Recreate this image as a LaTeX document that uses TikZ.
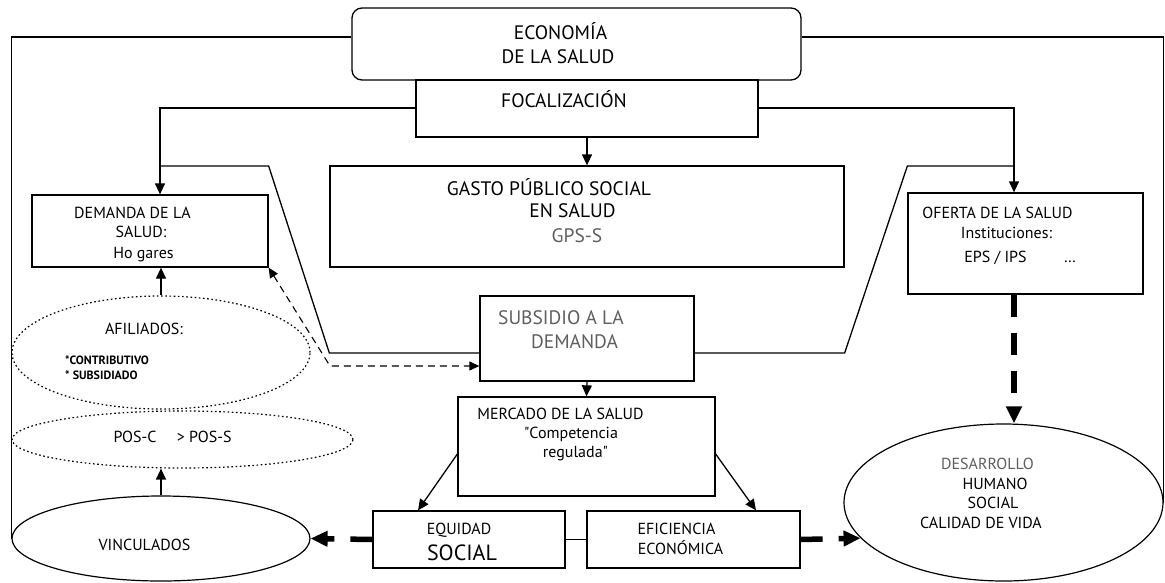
\documentclass[tikz,border=0pt]{standalone}
\usepackage{fontspec}
\setmainfont{PT Sans}
\usetikzlibrary{arrows.meta,shapes.geometric}
\definecolor{grismedio}{RGB}{95,95,95}

\tikzset{
  caja/.style={draw, line width=1.3pt, inner sep=0pt, fill=white},
  elipse/.style={draw, ellipse, line width=1.2pt, inner sep=0pt},
  punteada/.style={elipse, dash pattern=on 1.6pt off 2.6pt},
  linea/.style={line width=1.3pt},
  flecha/.style={linea, -{Triangle[length=11pt,width=10pt]}},
  gruesa/.style={line width=5.5pt, dash pattern=on 22pt off 16pt, -{Triangle[length=17pt,width=15pt]}},
  grande/.style={anchor=base, inner sep=0pt, font=\fontsize{19.5}{21}\selectfont},
  media/.style={anchor=base, inner sep=0pt, font=\fontsize{16}{18}\selectfont},
  enorme/.style={anchor=base, inner sep=0pt, font=\fontsize{22}{24}\selectfont},
  chica/.style={anchor=base west, inner sep=0pt, font=\fontsize{12}{13}\selectfont\bfseries},
  gris/.style={grande, text=grismedio},
  grismedia/.style={media, text=grismedio}
}

\begin{document}
\begin{tikzpicture}[x=1pt,y=-1pt]
\useasboundingbox (0,0) rectangle (1165,582);

% Cajas
\node[caja, rounded corners=10pt, minimum width=449pt, minimum height=72pt] (eco) at (576.5,44) {};
\node[caja, minimum width=342pt, minimum height=57pt] (foc) at (587,108.5) {};
\node[caja, minimum width=514pt, minimum height=101pt] (gas) at (587,216.5) {};
\node[caja, minimum width=236pt, minimum height=72pt] (dem) at (150,231) {};
\node[caja, minimum width=235pt, minimum height=101pt] (ofe) at (1025.5,243.5) {};
\node[caja, minimum width=214pt, minimum height=85pt] (sub) at (587,338.5) {};
\node[caja, minimum width=257pt, minimum height=99pt] (mer) at (586.5,446.5) {};
\node[caja, minimum width=192pt, minimum height=57pt] (equ) at (469,539.5) {};
\node[caja, minimum width=213pt, minimum height=57pt] (efi) at (693.5,539.5) {};

% Elipses
\node[punteada, minimum width=298pt, minimum height=113pt] (afi) at (161,352.5) {};
\node[punteada, minimum width=341pt, minimum height=57pt] (pos) at (182.5,439.5) {};
\node[elipse, minimum width=298pt, minimum height=85pt] (vin) at (161,538.5) {};
\node[elipse, minimum width=319pt, minimum height=157pt] (des) at (1003.5,502.5) {};

% Textos
\foreach \n/\x/\y/\estilo/\t in {
  ecot1/560.5/39/grande/ECONOMÍA, ecot2/558/63/grande/DE LA SALUD,
  foct/564/107/grande/FOCALIZACIÓN,
  gast1/549/195/grande/GASTO PÚBLICO SOCIAL, gast2/572.5/217/grande/EN SALUD,
  gast3/577/242/gris/GPS-S,
  demt1/132.5/218/media/DEMANDA DE LA, demt2/141/237/media/SALUD:,
  demt3/143.5/258/media/Ho gares,
  ofet1/997.5/218/media/OFERTA DE LA SALUD, ofet2/1006.5/238/media/Instituciones:,
  ofet3/995.5/262/media/{EPS / IPS},
  subt1/561/324/gris/SUBSIDIO A LA, subt2/574.5/348/gris/DEMANDA,
  mert1/560.5/419/media/MERCADO DE LA SALUD, mert2/571/438/media/\textquotedbl Competencia,
  mert3/575.5/457/media/regulada\textquotedbl,
  equt1/459/534/media/EQUIDAD, equt2/462/560/enorme/SOCIAL,
  efit1/676.5/534/media/EFICIENCIA, efit2/680.5/554/media/ECONÓMICA,
  dest1/987.5/469/grismedia/DESARROLLO, dest2/995/489/media/HUMANO,
  dest3/993/508/media/SOCIAL, dest4/981/528/media/CALIDAD DE VIDA,
  afit/144/334/media/AFILIADOS:,
  post/172.5/442/media/POS-C\quad\ > POS-S,
  vint/144.5/550/media/VINCULADOS}
  \node[\estilo] (\n) at (\x,\y) {\t};
\node[media] (ofet4) at (1070,262) {\ldots};
\node[chica] (afit2) at (65,364) {*CONTRIBUTIVO};
\node[chica] (afit3) at (65,379) {* SUBSIDIADO};

% Lineas exteriores
\draw[linea] (eco.west |- 0,37) -- (vin.west |- 0,37) -- (vin.west);
\draw[linea] (eco.east |- 0,37) -- (des.east |- 0,37) -- (des.east);

% Embudo
\draw[linea] (160,166) -- (dem.east |- 0,166) -- (gas.west |- 0,353) -- (sub.west |- 0,353);
\draw[linea] (sub.east |- 0,353) -- (gas.east |- 0,353) -- (ofe.west |- 0,166) -- (1014,166);

% Flechas
\draw[flecha] (foc.west |- 0,108) -- (160,108) -- (dem.north -| 160,0);
\draw[flecha] (foc.east |- 0,108) -- (1014,108) -- (ofe.north -| 1014,0);
\draw[flecha] (foc.south) -- (gas.north);
\draw[flecha] (afi.north) -- (afi.north |- dem.south);
\draw[flecha] (vin.north) -- (vin.north |- pos.south);
\draw[flecha] (sub.south) -- (mer.north);
\draw[flecha] (mer.west |- 0,454) -- (equ.north -| 418,0);
\draw[flecha] (mer.east |- 0,454) -- (efi.north -| 756,0);
\draw[linea] (equ.east) -- (efi.west);
\draw[line width=1.1pt, dash pattern=on 7pt off 5pt,
  {Triangle[length=10pt,width=9pt]}-{Triangle[length=10pt,width=9pt]}]
  (dem.south east) -- (330,366) -- (sub.west |- 0,366);

% Flechas gruesas
\draw[gruesa] (equ.west) -- (vin.east);
\draw[gruesa] (efi.east) -- (des.194);
\draw[gruesa] (ofe.south -| 1014,0) -- (des.north -| 1014,0);
\end{tikzpicture}
\end{document}
